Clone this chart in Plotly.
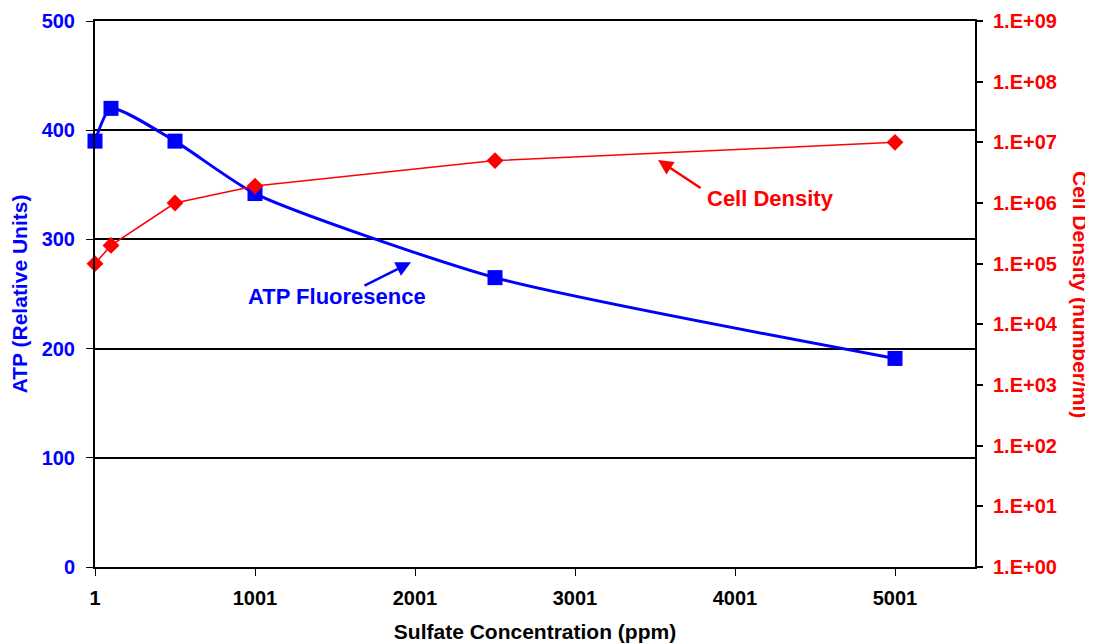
import plotly.graph_objects as go

sulfate = [1, 101, 501, 1001, 2501, 5001]
atp = [390, 420, 390, 342, 265, 191]
cell_density = [1e5, 2e5, 1e6, 1.9e6, 5e6, 1e7]

x_ticks = [1, 1001, 2001, 3001, 4001, 5001]
y2_ticks = [10**i for i in range(10)]
y2_labels = ["1.E+%02d" % i for i in range(10)]

FONT = "Liberation Sans, Arial, sans-serif"
BLUE = "#0000FF"
RED = "#FF0000"

fig = go.Figure()
fig.add_trace(go.Scatter(
    x=sulfate, y=atp, mode="lines+markers", name="ATP", cliponaxis=False,
    line=dict(color=BLUE, width=3, shape="spline", smoothing=0.6),
    marker=dict(symbol="square", size=15, color=BLUE),
))
fig.add_trace(go.Scatter(
    x=sulfate, y=cell_density, mode="lines+markers", name="Cell Density",
    yaxis="y2", cliponaxis=False,
    line=dict(color=RED, width=1.5),
    marker=dict(symbol="diamond", size=13, color=RED),
))

fig.update_layout(
    width=1093, height=644,
    margin=dict(l=87, r=126, t=13, b=85),
    paper_bgcolor="white", plot_bgcolor="white",
    showlegend=False,
    font=dict(family=FONT),
    xaxis=dict(
        range=[1, 5501], tickvals=x_ticks, ticktext=[str(v) for v in x_ticks],
        showgrid=False, zeroline=False, automargin=False,
        showline=True, linecolor="black", linewidth=2, mirror=True,
        ticks="outside", ticklen=7, tickcolor="black", tickwidth=1,
        ticklabelstandoff=5,
        tickfont=dict(family=FONT, size=20, color="black", weight="bold"),
        title=dict(text="<b>Sulfate Concentration (ppm)</b>",
                   font=dict(family=FONT, size=21, color="black"), standoff=16),
    ),
    yaxis=dict(
        range=[0, 500], tickvals=[0, 100, 200, 300, 400, 500],
        showgrid=True, gridcolor="black", gridwidth=1.5, zeroline=False,
        automargin=False,
        showline=True, linecolor="black", linewidth=2,
        ticks="outside", ticklen=7, tickcolor="black", tickwidth=1,
        ticklabelstandoff=7,
        tickfont=dict(family=FONT, size=20, color=BLUE, weight="bold"),
        title=dict(text="<b>ATP (Relative Units)</b>",
                   font=dict(family=FONT, size=21, color=BLUE), standoff=10),
    ),
    yaxis2=dict(
        type="log", range=[0, 9], overlaying="y", side="right",
        tickvals=y2_ticks, ticktext=y2_labels,
        showgrid=False, zeroline=False, automargin=False,
        showline=True, linecolor="black", linewidth=2,
        ticks="outside", ticklen=6, tickcolor="black", tickwidth=2,
        ticklabelstandoff=6,
        tickfont=dict(family=FONT, size=20, color=RED, weight="bold"),
    ),
    annotations=[
        dict(x=1.1205, y=0.5, xref="paper", yref="paper", textangle=90,
             xanchor="center", yanchor="middle",
             text="<b>Cell Density (number/ml)</b>", showarrow=False,
             font=dict(family=FONT, size=21, color=RED)),
        dict(x=1976, y=279, xref="x", yref="y", ax=-48, ay=24,
             text="", showarrow=True, arrowhead=2, arrowsize=1.2, arrowwidth=2.5, arrowcolor=BLUE),
        dict(x=1513, y=248, xref="x", yref="y",
             text="<b>ATP Fluoresence</b>", showarrow=False,
             font=dict(family=FONT, size=22, color=BLUE)),
        dict(x=3520, y=6.71, xref="x", yref="y2", ax=44, ay=29,
             text="", showarrow=True, arrowhead=2, arrowsize=1.2, arrowwidth=2.5, arrowcolor=RED),
        dict(x=4220, y=6.08, xref="x", yref="y2",
             text="<b>Cell Density</b>", showarrow=False,
             font=dict(family=FONT, size=22, color=RED)),
    ],
)

fig.write_html("out.html")
